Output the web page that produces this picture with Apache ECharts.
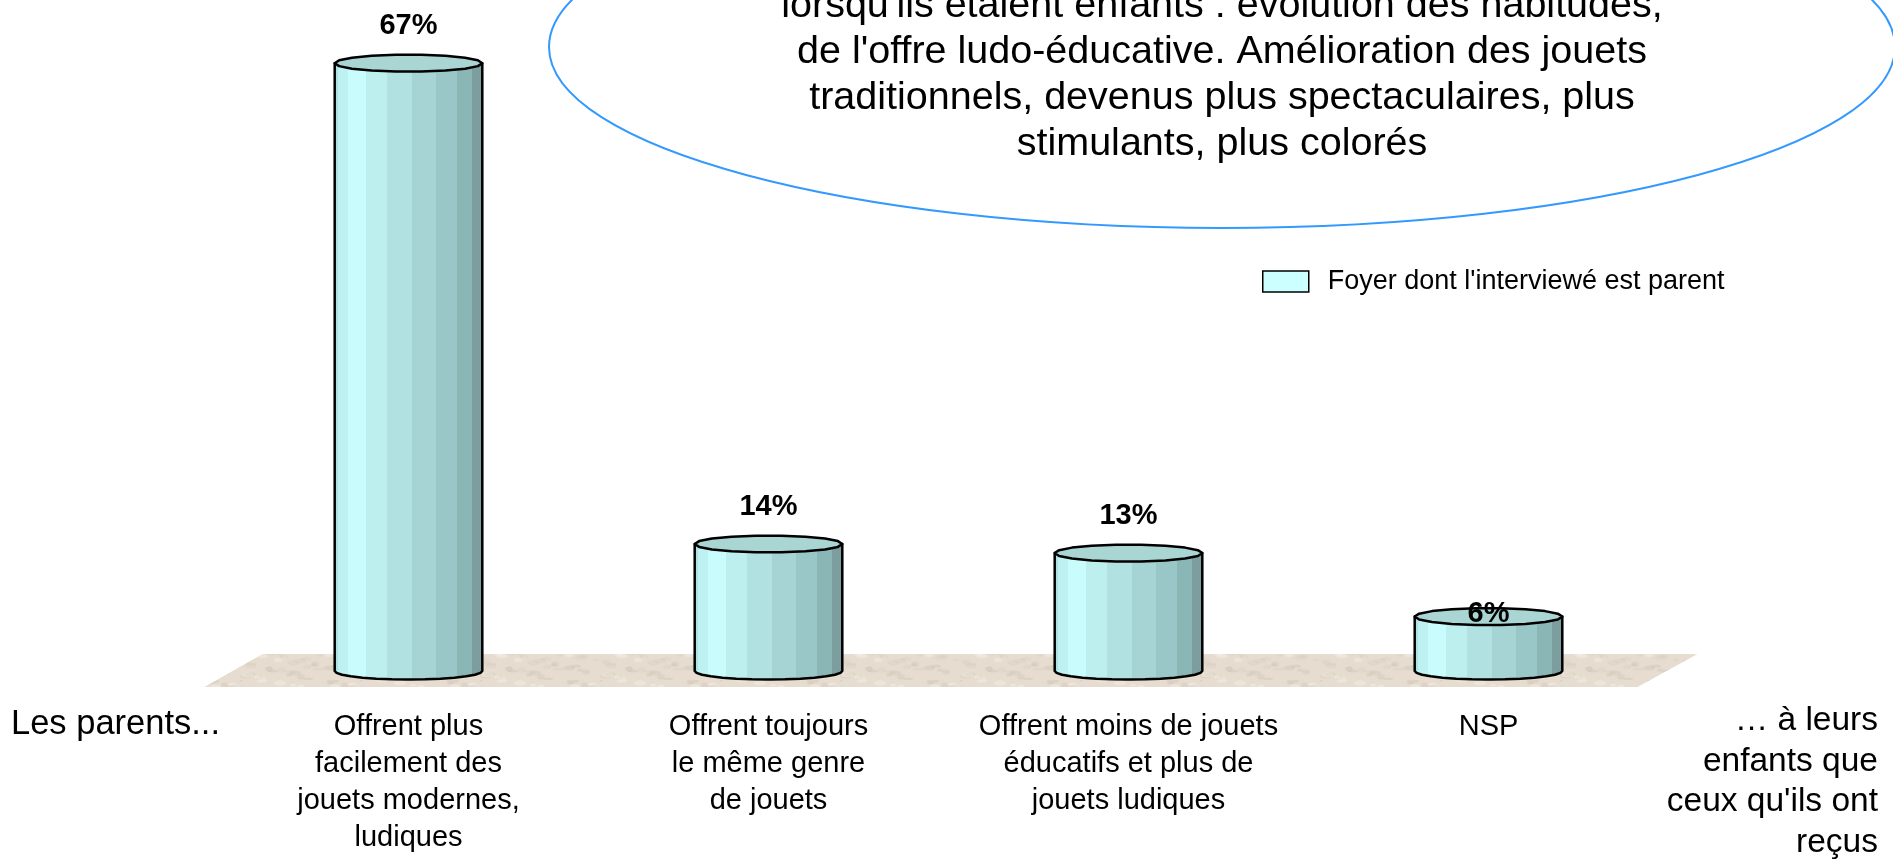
<!DOCTYPE html>
<html>
<head>
<meta charset="utf-8">
<script src="https://cdn.jsdelivr.net/npm/echarts@6/dist/echarts.min.js"></script>
<style>
  html, body { margin: 0; padding: 0; background: #ffffff; }
  #chart { width: 1893px; height: 860px; }
</style>
</head>
<body>
<div id="chart"></div>
<script>
// ---- chart data ----
const categories = [
  'Offrent plus\nfacilement des\njouets modernes,\nludiques',
  'Offrent toujours\nle même genre\nde jouets',
  'Offrent moins de jouets\néducatifs et plus de\njouets ludiques',
  'NSP'
];
const values = [67, 14, 13, 6];
const seriesName = "Foyer dont l'interviewé est parent";
const leftNote = 'Les parents...';
const rightNote = ['… à leurs', 'enfants que', "ceux qu'ils ont", 'reçus'];
const bubbleLines = [
  "lorsqu'ils étaient enfants : évolution des habitudes,",
  "de l'offre ludo-éducative. Amélioration des jouets",
  'traditionnels, devenus plus spectaculaires, plus',
  'stimulants, plus colorés'
];
const axisMax = 70;

// ---- styling ----
const FONT = '"Liberation Sans", Arial, sans-serif';
const labelLift = [37, 37, 37, 3];   // distance of the value label above each cylinder top
const capRy = 8.5;                     // half-height of the elliptical caps
const bodyBands = [
  [0.00, '#aee2e2'], [0.03, '#bef2f2'], [0.10, '#c9fdfd'], [0.22, '#bdefef'],
  [0.36, '#b2e1e1'], [0.52, '#a6d3d3'], [0.68, '#99c6c6'], [0.82, '#8bb6b6'],
  [0.92, '#7c9e9e']
];

function bandedStops(bands) {
  const stops = [];
  bands.forEach((b, i) => {
    const end = i + 1 < bands.length ? bands[i + 1][0] : 1;
    stops.push({ offset: b[0], color: b[1] });
    stops.push({ offset: end, color: b[1] });
  });
  return stops;
}

function ellipsePoints(cx, cy, rx, ry, a0, a1, n) {
  const pts = [];
  for (let i = 0; i <= n; i++) {
    const a = a0 + (a1 - a0) * i / n;
    pts.push([cx + rx * Math.cos(a), cy + ry * Math.sin(a)]);
  }
  return pts;
}

// soft mottled beige texture for the floor
function floorPattern() {
  const c = document.createElement('canvas');
  c.width = 120; c.height = 40;
  const g = c.getContext('2d');
  g.fillStyle = '#e6dcd0';
  g.fillRect(0, 0, 120, 40);
  for (let i = 0; i < 60; i++) {
    const x = (i * 37 + (i * i) % 23) % 120;
    const y = (i * 53 + (i * 7) % 11) % 40;
    g.fillStyle = i % 3 === 0 ? 'rgba(185,170,150,0.18)' : (i % 3 === 1 ? 'rgba(250,245,236,0.35)' : 'rgba(210,198,182,0.25)');
    g.beginPath();
    g.ellipse(x, y, 3 + (i % 4), 1.5 + (i % 2), 0, 0, Math.PI * 2);
    g.fill();
  }
  return c;
}
const floorImg = floorPattern();

function renderFloor(params, api) {
  const cs = params.coordSys;
  const y0 = cs.y + cs.height;
  const xl = cs.x, xr = cs.x + cs.width;
  return {
    type: 'polygon',
    shape: { points: [[xl - 24, y0 + 16], [xl + 34, y0 - 17], [xr + 29, y0 - 17], [xr - 31, y0 + 16]] },
    style: { fill: { image: floorImg, repeat: 'repeat' }, stroke: null },
    silent: true
  };
}

function renderCylinder(params, api) {
  const idx = api.value(0);
  const v = api.value(1);
  const top = api.coord([idx, v]);
  const base = api.coord([idx, 0]);
  const w = api.size([1, 0])[0] * 0.41;
  const cx = top[0];
  const rx = w / 2;
  const left = cx - rx, right = cx + rx;

  const bodyPts = [[left, top[1]]]
    .concat(ellipsePoints(cx, base[1], rx, capRy, Math.PI, 0, 14))
    .concat([[right, top[1]]]);

  return {
    type: 'group',
    children: [
      {
        type: 'polygon',
        shape: { points: bodyPts },
        style: {
          fill: { type: 'linear', x: 0, y: 0, x2: 1, y2: 0, colorStops: bandedStops(bodyBands) },
          stroke: '#000', lineWidth: 2.5, lineJoin: 'round'
        }
      },
      {
        type: 'polygon',
        shape: { points: ellipsePoints(cx, top[1], rx, capRy, 0, Math.PI * 2, 18) },
        style: { fill: '#a9d5d2', stroke: '#000', lineWidth: 2.5, lineJoin: 'round' }
      },
      {
        type: 'text',
        style: {
          text: v + '%', x: cx, y: top[1] - labelLift[idx],
          align: 'center', verticalAlign: 'middle',
          font: 'bold 29px ' + FONT, fill: '#000'
        }
      }
    ]
  };
}

const chart = echarts.init(document.getElementById('chart'), null, { renderer: 'canvas' });

chart.setOption({
  backgroundColor: '#ffffff',
  animation: false,
  grid: { left: 228.5, right: 224.5, top: 36, bottom: 189, containLabel: false },
  xAxis: {
    type: 'category',
    data: categories,
    axisLine: { show: false },
    axisTick: { show: false },
    axisLabel: {
      interval: 0, margin: 37, color: '#000',
      fontFamily: FONT, fontSize: 29, lineHeight: 37
    }
  },
  yAxis: { type: 'value', min: 0, max: axisMax, show: false },
  legend: {
    left: 1262, top: 268, padding: 0,
    itemWidth: 46, itemHeight: 21,
    data: [{
      name: seriesName, icon: 'rect',
      itemStyle: { color: '#ccffff', borderColor: '#000', borderWidth: 1.5 }
    }],
    textStyle: { fontFamily: FONT, fontSize: 27, color: '#000', padding: [0, 0, 0, 14] }
  },
  series: [
    {
      type: 'custom',
      name: 'floor',
      renderItem: renderFloor,
      data: [[0, 0]],
      z: 1, silent: true
    },
    {
      type: 'custom',
      name: seriesName,
      renderItem: renderCylinder,
      encode: { x: 0, y: 1 },
      itemStyle: { color: '#ccffff' },
      data: values.map((v, i) => [i, v]),
      z: 2
    }
  ],
  graphic: [
    {
      type: 'ellipse', z: 10,
      shape: { cx: 1222, cy: 47, rx: 673, ry: 181 },
      style: { fill: '#ffffff', stroke: '#3399ff', lineWidth: 2 }
    },
    {
      type: 'text', z: 11,
      style: {
        text: bubbleLines.join('\n'), x: 1222, y: -17,
        align: 'center', verticalAlign: 'top',
        font: '39.5px ' + FONT, lineHeight: 46, fill: '#000'
      }
    },
    {
      type: 'text', z: 11,
      style: {
        text: leftNote, x: 11, y: 724, align: 'left', verticalAlign: 'middle',
        font: '34.5px ' + FONT, fill: '#000'
      }
    },
    {
      type: 'text', z: 11,
      style: {
        text: rightNote.join('\n'), x: 1878, y: 701,
        align: 'right', verticalAlign: 'top',
        font: '33.5px ' + FONT, lineHeight: 40.5, fill: '#000'
      }
    }
  ]
});
</script>
</body>
</html>
